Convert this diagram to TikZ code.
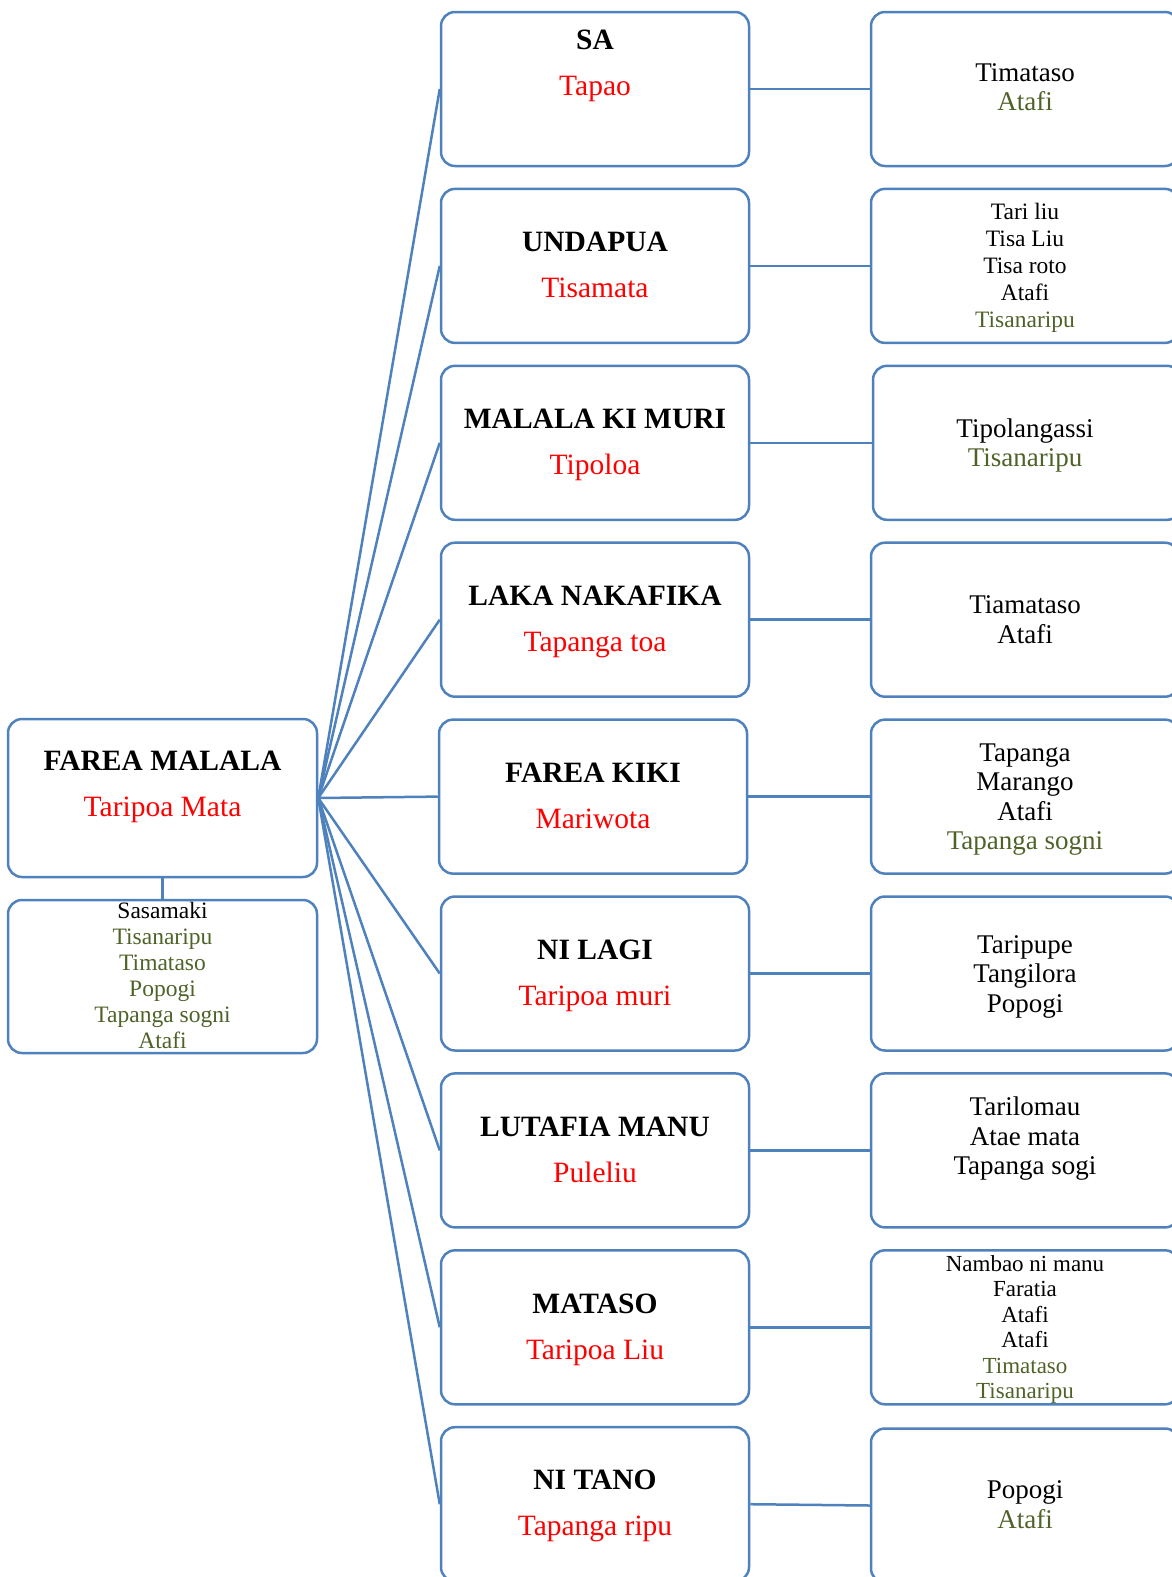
\documentclass[tikz,border=0pt]{standalone}
\usepackage{fontspec}
\setmainfont{Liberation Serif}
\definecolor{boxblue}{HTML}{4F81BD}
\definecolor{olivetxt}{HTML}{4F6228}
\begin{document}
\begin{tikzpicture}[x=1pt,y=-1pt,
  box/.style={draw=boxblue, line width=2.5pt, rounded corners=14pt, minimum width=308pt, minimum height=154pt, inner sep=0pt},
  conn/.style={draw=boxblue, line width=2.5pt},
  midtxt/.style={align=center, font=\fontsize{29.5}{46}\selectfont, text height=65.5pt, text depth=0pt, inner sep=0pt},
  bigtxt/.style={align=center, font=\fontsize{27}{29.5}\selectfont, text height=#1, text depth=0pt, inner sep=0pt},
  smalltxt/.style={align=center, font=\fontsize{23.5}{26}\selectfont, text height=145.5pt, text depth=0pt, inner sep=0pt},
]
\useasboundingbox (0,0) rectangle (1172,1577);
\clip (0,0) rectangle (1172,1577);

% left column
\node[box, minimum width=309pt, minimum height=158pt] (main) at (162.5,798) {};
\node[box, minimum width=309pt, minimum height=153pt] (sub) at (162.5,976.5) {};
\node[midtxt] (maint) at ([yshift=14pt]main.center) {\textbf{FAREA MALALA}\\\textcolor{red}{Taripoa Mata}};
\node[smalltxt] (subt) at ([yshift=1pt]sub.center) {Sasamaki\\\textcolor{olivetxt}{Tisanaripu}\\\textcolor{olivetxt}{Timataso}\\\textcolor{olivetxt}{Popogi}\\\textcolor{olivetxt}{Tapanga sogni}\\\textcolor{olivetxt}{Atafi}};

% middle column
\node[box] (m1) at (595,89) {};
\node[box] (m2) at (595,265.9) {};
\node[box] (m3) at (595,442.8) {};
\node[box] (m4) at (595,619.7) {};
\node[box] (m5) at (593,796.6) {};
\node[box] (m6) at (595,973.5) {};
\node[box] (m7) at (595,1150.4) {};
\node[box] (m8) at (595,1327.3) {};
\node[box] (m9) at (595,1504.2) {};

\node[midtxt] (m1t) at ([yshift=26pt]m1.center) {\textbf{SA}\\\textcolor{red}{Tapao}};
\node[midtxt] (m2t) at ([yshift=1pt]m2.center) {\textbf{UNDAPUA}\\\textcolor{red}{Tisamata}};
\node[midtxt] (m3t) at ([yshift=1pt]m3.center) {\textbf{MALALA KI MURI}\\\textcolor{red}{Tipoloa}};
\node[midtxt] (m4t) at ([yshift=1pt]m4.center) {\textbf{LAKA NAKAFIKA}\\\textcolor{red}{Tapanga toa}};
\node[midtxt] (m5t) at ([yshift=1pt]m5.center) {\textbf{FAREA KIKI}\\\textcolor{red}{Mariwota}};
\node[midtxt] (m6t) at ([yshift=1pt]m6.center) {\textbf{NI LAGI}\\\textcolor{red}{Taripoa muri}};
\node[midtxt] (m7t) at ([yshift=1pt]m7.center) {\textbf{LUTAFIA MANU}\\\textcolor{red}{Puleliu}};
\node[midtxt] (m8t) at ([yshift=1pt]m8.center) {\textbf{MATASO}\\\textcolor{red}{Taripoa Liu}};
\node[midtxt] (m9t) at ([yshift=1pt]m9.center) {\textbf{NI TANO}\\\textcolor{red}{Tapanga ripu}};

% right column
\node[box] (r1) at (1025,89) {};
\node[box] (r2) at (1025,265.9) {};
\node[box] (r3) at (1027,442.8) {};
\node[box] (r4) at (1025,619.7) {};
\node[box] (r5) at (1025,796.6) {};
\node[box] (r6) at (1025,973.5) {};
\node[box] (r7) at (1025,1150.4) {};
\node[box] (r8) at (1025,1327.3) {};
\node[box] (r9) at (1025,1505.5) {};

\node[bigtxt=47.5pt] (r1t) at ([yshift=2pt]r1.center) {Timataso\\\textcolor{olivetxt}{Atafi}};
\node[smalltxt, font=\fontsize{23.5}{27}\selectfont, text height=123.5pt] (r2t) at (r2.center) {Tari liu\\Tisa Liu\\Tisa roto\\Atafi\\\textcolor{olivetxt}{Tisanaripu}};
\node[bigtxt=47.5pt] (r3t) at ([xshift=-2pt]r3.center) {Tipolangassi\\\textcolor{olivetxt}{Tisanaripu}};
\node[bigtxt=47.5pt] (r4t) at (r4.center) {Tiamataso\\Atafi};
\node[bigtxt=106.5pt] (r5t) at (r5.center) {Tapanga\\Marango\\Atafi\\\textcolor{olivetxt}{Tapanga sogni}};
\node[bigtxt=77pt] (r6t) at (r6.center) {Taripupe\\Tangilora\\Popogi};
\node[bigtxt=77pt] (r7t) at ([yshift=14pt]r7.center) {Tarilomau\\Atae mata\\Tapanga sogi};
\node[smalltxt, font=\fontsize{23}{25.5}\selectfont, text height=142.5pt] (r8t) at (r8.center) {Nambao ni manu\\Faratia\\Atafi\\Atafi\\\textcolor{olivetxt}{Timataso}\\\textcolor{olivetxt}{Tisanaripu}};
\node[bigtxt=47.5pt] (r9t) at ([yshift=1pt]r9.center) {Popogi\\\textcolor{olivetxt}{Atafi}};

% connectors
\draw[conn] (main.south) -- (sub.north);
\foreach \i in {1,...,9} {
  \draw[conn] (main.east) -- (m\i.west);
  \draw[conn] (m\i.east) -- (r\i.west);
}
\end{tikzpicture}
\end{document}
